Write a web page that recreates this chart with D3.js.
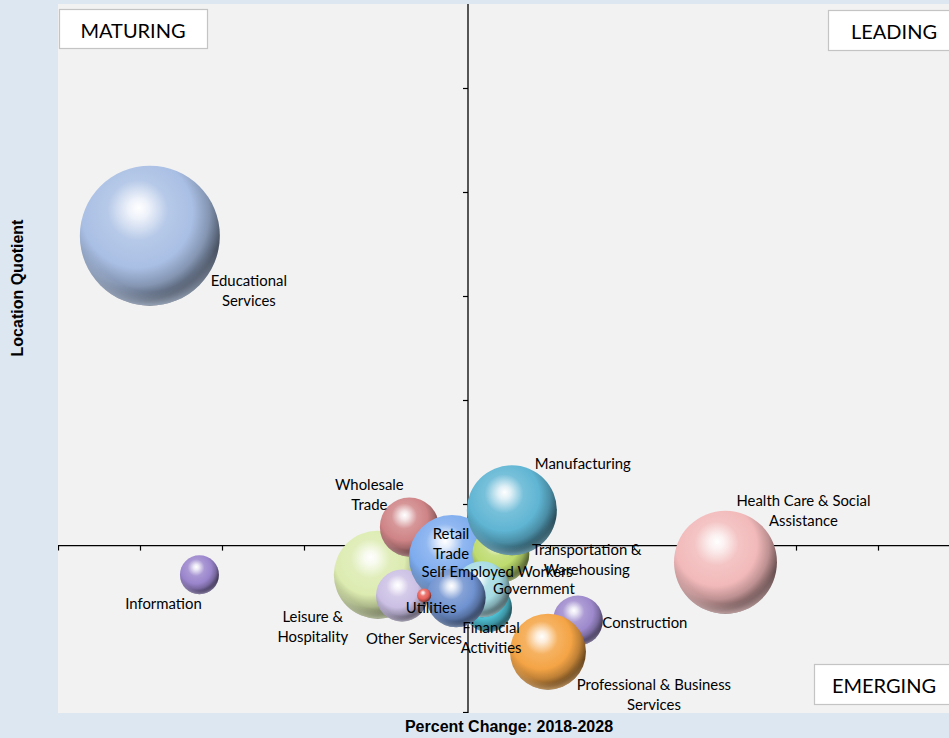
<!DOCTYPE html>
<html>
<head>
<meta charset="utf-8">
<script src="https://cdn.jsdelivr.net/npm/d3@7"></script>
<style>
  html, body { margin: 0; padding: 0; background: #dde7f2; }
  svg { display: block; }
</style>
</head>
<body>
<svg id="chart" width="949" height="738"></svg>
<script>
// ---------------- DATA ----------------
const industries = [
  "Educational Services", "Information", "Health Care & Social Assistance",
  "Leisure & Hospitality", "Wholesale Trade", "Other Services", "Retail Trade",
  "Transportation & Warehousing", "Manufacturing", "Financial Activities",
  "Government", "Self Employed Workers", "Utilities", "Construction",
  "Professional & Business Services"
];
// Percent change 2018-2028
const percentChange = [-7.76, -6.55, 6.28, -2.2, -1.43, -1.61, -0.39, 0.80, 1.07, 0.49, 0.34, -0.29, -1.07, 2.68, 1.95];
// Location quotient
const locationQuotient = [2.49, 0.86, 0.92, 0.86, 1.09, 0.76, 0.94, 0.96, 1.17, 0.70, 0.79, 0.75, 0.76, 0.64, 0.49];
// Bubble size (employment)
const employment = [19600, 1520, 10600, 7740, 3480, 2700, 7400, 3250, 8100, 2300, 3140, 3500, 200, 2500, 5780];

const xTicks = [-10, -8, -6, -4, -2, 0, 2, 4, 6, 8, 10];
const yTicks = [0.2, 0.7, 1.2, 1.7, 2.2, 2.7, 3.2];
const quadrantLabels = ["MATURING", "LEADING", "EMERGING"];

// ---------------- STYLE / LAYOUT ----------------
const colors = {
  "Educational Services": "#a9bfe4",
  "Information": "#9a85cc",
  "Health Care & Social Assistance": "#f2b9ba",
  "Leisure & Hospitality": "#dcebb0",
  "Wholesale Trade": "#cf8486",
  "Other Services": "#cbc0e4",
  "Retail Trade": "#7eacee",
  "Transportation & Warehousing": "#bddb6e",
  "Manufacturing": "#5fb5d3",
  "Financial Activities": "#4dbdd0",
  "Government": "#a6dbe4",
  "Self Employed Workers": "#6f92d0",
  "Utilities": "#e8625c",
  "Construction": "#9d89cc",
  "Professional & Business Services": "#f4a445"
};
// label lines and offsets (dx, dy of first line centre relative to bubble centre)
const labelLayout = {
  "Educational Services": {lines: ["Educational", "Services"], dx: 99, dy: 44},
  "Information": {lines: ["Information"], dx: -36, dy: 28},
  "Health Care & Social Assistance": {lines: ["Health Care & Social", "Assistance"], dx: 78, dy: -62},
  "Leisure & Hospitality": {lines: ["Leisure &", "Hospitality"], dx: -65, dy: 41},
  "Wholesale Trade": {lines: ["Wholesale", "Trade"], dx: -40, dy: -43},
  "Other Services": {lines: ["Other Services"], dx: 12, dy: 42},
  "Retail Trade": {lines: ["Retail", "Trade"], dx: -1, dy: -25},
  "Transportation & Warehousing": {lines: ["Transportation &", "Warehousing"], dx: 86, dy: -5},
  "Manufacturing": {lines: ["Manufacturing"], dx: 71, dy: -47},
  "Financial Activities": {lines: ["Financial", "Activities"], dx: 3, dy: 19},
  "Government": {lines: ["Government"], dx: 52, dy: -1},
  "Self Employed Workers": {lines: ["Self Employed Workers"], dx: 41, dy: -27},
  "Utilities": {lines: ["Utilities"], dx: 7, dy: 11},
  "Construction": {lines: ["Construction"], dx: 67, dy: 2},
  "Professional & Business Services": {lines: ["Professional & Business", "Services"], dx: 106, dy: 32}
};

const W = 949, H = 738;
const plot = {left: 58, top: 4, right: 949, bottom: 713};

const svg = d3.select("#chart");
const defs = svg.append("defs");

const x = d3.scaleLinear().domain([-10, 10]).range([58, 878]);
const y = d3.scaleLinear().domain([0.2, 3.2]).range([712, 88]);
const r = d3.scaleSqrt().domain([0, d3.max(employment)]).range([0, 70]);

// background
svg.append("rect").attr("width", W).attr("height", H).attr("fill", "#dde7f2");
svg.append("rect")
  .attr("x", plot.left).attr("y", plot.top)
  .attr("width", plot.right - plot.left).attr("height", plot.bottom - plot.top)
  .attr("fill", "#f2f2f2");

defs.append("clipPath").attr("id", "plotclip")
  .append("rect").attr("x", plot.left).attr("y", plot.top)
  .attr("width", plot.right - plot.left).attr("height", plot.bottom - plot.top);

const g = svg.append("g").attr("clip-path", "url(#plotclip)");

// axes crossing at (0, 1.0)
const x0 = x(0), y0 = y(1.0);

const yAxis = d3.axisLeft(y).tickValues(yTicks).tickSize(5).tickFormat("");
const yg = g.append("g").attr("transform", `translate(${x0},0)`).call(yAxis);
yg.select(".domain").remove();
yg.selectAll("line").attr("stroke", "#000").attr("stroke-width", 1.2);
g.append("line").attr("x1", x0).attr("x2", x0).attr("y1", plot.top).attr("y2", plot.bottom)
  .attr("stroke", "#000").attr("stroke-width", 1.3);

const xAxis = d3.axisBottom(x).tickValues(xTicks).tickSize(5).tickFormat("");
const xg = g.append("g").attr("transform", `translate(0,${y0})`).call(xAxis);
xg.select(".domain").remove();
xg.selectAll("line").attr("stroke", "#000").attr("stroke-width", 1.2);
g.append("line").attr("x1", plot.left).attr("x2", plot.right).attr("y1", y0).attr("y2", y0)
  .attr("stroke", "#000").attr("stroke-width", 1.3);

// gradients for spheres
function makeGrad(id, base) {
  const hl = d3.interpolateRgb(base, "#ffffff");
  const dk = d3.interpolateRgb(base, "#000000");
  const grad = defs.append("radialGradient").attr("id", id)
    .attr("cx", "0.4").attr("cy", "0.36").attr("r", "0.72")
    .attr("fx", "0.42").attr("fy", "0.3");
  grad.append("stop").attr("offset", "0").attr("stop-color", "#ffffff");
  grad.append("stop").attr("offset", "0.1").attr("stop-color", hl(0.8));
  grad.append("stop").attr("offset", "0.3").attr("stop-color", hl(0.15));
  grad.append("stop").attr("offset", "0.55").attr("stop-color", base);
  grad.append("stop").attr("offset", "0.72").attr("stop-color", dk(0.22));
  grad.append("stop").attr("offset", "0.86").attr("stop-color", dk(0.55));
  grad.append("stop").attr("offset", "1").attr("stop-color", dk(0.65));
  // rim light
  const rim = defs.append("radialGradient").attr("id", id + "rim")
    .attr("cx", "0.5").attr("cy", "0.5").attr("r", "0.5")
    .attr("fx", "0.5").attr("fy", "0.5");
  rim.append("stop").attr("offset", "0.8").attr("stop-color", hl(0.4)).attr("stop-opacity", 0);
  rim.append("stop").attr("offset", "1").attr("stop-color", hl(0.4)).attr("stop-opacity", 0.6);
  return id;
}
const rimMask = defs.append("linearGradient").attr("id", "rimfade")
  .attr("x1", 0).attr("y1", 0).attr("x2", 0).attr("y2", 1);
rimMask.append("stop").attr("offset", "0.6").attr("stop-color", "#000");
rimMask.append("stop").attr("offset", "1").attr("stop-color", "#fff");
defs.append("mask").attr("id", "rimmask").attr("maskContentUnits", "objectBoundingBox")
  .append("rect").attr("width", 1).attr("height", 1).attr("fill", "url(#rimfade)");

const data = industries.map((name, i) => ({
  name, px: percentChange[i], lq: locationQuotient[i], emp: employment[i], i
}));
data.forEach(d => makeGrad("g" + d.i, colors[d.name]));

const bubbles = g.append("g").selectAll("g.b").data(data).join("g").attr("class", "b");
bubbles.append("circle")
  .attr("cx", d => x(d.px)).attr("cy", d => y(d.lq)).attr("r", d => r(d.emp))
  .attr("fill", d => `url(#g${d.i})`);
bubbles.append("circle")
  .attr("cx", d => x(d.px)).attr("cy", d => y(d.lq)).attr("r", d => r(d.emp))
  .attr("fill", d => `url(#g${d.i}rim)`).attr("mask", "url(#rimmask)");

// labels
const labels = g.append("g").attr("font-family", "Lato, 'Open Sans', sans-serif")
  .attr("font-size", "14.9px").attr("fill", "#000");
data.forEach(d => {
  const L = labelLayout[d.name];
  const t = labels.append("text")
    .attr("text-anchor", "middle")
    .attr("x", x(d.px) + L.dx).attr("y", y(d.lq) + L.dy)
    .attr("dominant-baseline", "central");
  L.lines.forEach((ln, k) => {
    t.append("tspan").attr("x", x(d.px) + L.dx).attr("dy", k === 0 ? 0 : 20).text(ln);
  });
});

// quadrant boxes
const qBoxes = [
  {label: quadrantLabels[0], x: 59.5, y: 9.5, w: 148, h: 39},
  {label: quadrantLabels[1], x: 828.5, y: 10.5, w: 140, h: 40},
  {label: quadrantLabels[2], x: 814.5, y: 664.5, w: 150, h: 40}
];
const qg = svg.append("g");
qBoxes.forEach(b => {
  qg.append("rect").attr("x", b.x).attr("y", b.y).attr("width", b.w).attr("height", b.h)
    .attr("fill", "#fff").attr("stroke", "#c4c4c4").attr("stroke-width", 1.2);
});
qg.append("text").attr("x", 133).attr("y", 30).text(quadrantLabels[0]);
qg.append("text").attr("x", 894).attr("y", 31).text(quadrantLabels[1]);
qg.append("text").attr("x", 884).attr("y", 685).text(quadrantLabels[2]);
qg.selectAll("text").attr("text-anchor", "middle").attr("dominant-baseline", "central")
  .attr("font-family", "Lato, 'Open Sans', sans-serif").attr("font-size", "20px").attr("fill", "#000");

// axis titles
svg.append("text").attr("x", 509).attr("y", 726)
  .attr("text-anchor", "middle").attr("dominant-baseline", "central")
  .attr("font-family", "'Liberation Sans', Arial, sans-serif").attr("font-weight", "bold")
  .attr("font-size", "16px").text("Percent Change: 2018-2028");
svg.append("text").attr("transform", "translate(17,288) rotate(-90)")
  .attr("text-anchor", "middle").attr("dominant-baseline", "central")
  .attr("font-family", "'Liberation Sans', Arial, sans-serif").attr("font-weight", "bold")
  .attr("font-size", "16px").text("Location Quotient");
</script>
</body>
</html>
